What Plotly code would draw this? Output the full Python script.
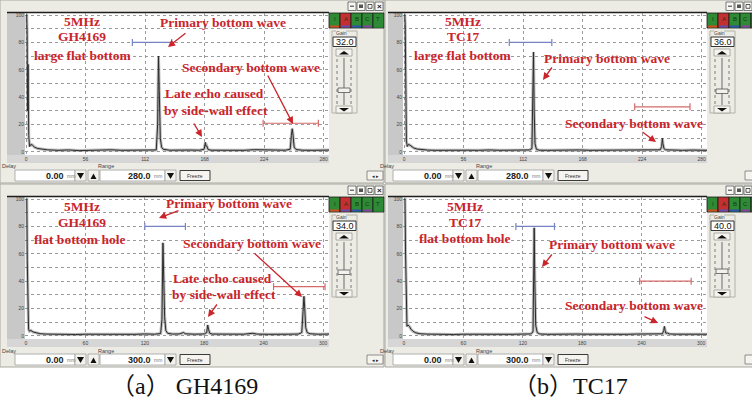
import plotly.graph_objects as go

# ---------------- data ----------------
TICKS_280 = [0, 56, 112, 168, 224, 280]
TICKS_300 = [0, 60, 120, 180, 240, 300]
Y_TICKS = [0, 20, 40, 60, 80, 100]
Y_MINOR = [10, 30, 50, 70, 90]

# A-scan waveforms: (sound path mm, amplitude %)
P1_WAVE = [(0, 100), (0.6, 100), (1.0, 86), (1.4, 30), (1.9, 64), (2.5, 12), (3.3, 4), (4.5, 5.5), (6, 5),
           (8, 3.5), (11, 2.5), (15, 2), (20, 1.6), (30, 1.2), (40, 1.5), (50, 1), (60, 1.3), (70, 1.1),
           (80, 1.6), (90, 1.2), (100, 1.4), (110, 1.2), (118, 1.6), (122.5, 1.5), (123.8, 20), (124.6, 70),
           (125.3, 45), (126.3, 10), (127.5, 3.5), (129, 2), (135, 1.3), (145, 1.1), (155, 1.4), (163, 1.3),
           (167.5, 2), (168.7, 7), (169.3, 4), (170, 4.5), (171.2, 1.8), (174, 1.3), (185, 1.2), (195, 1.5),
           (205, 1.2), (215, 1.7), (225, 1.3), (235, 1.4), (244, 1.3), (248.5, 2), (249.6, 12), (250.4, 17),
           (251.1, 13), (252.2, 3.5), (254, 1.8), (260, 1.3), (270, 1.2), (285, 1.4)]
P2_WAVE = [(0, 100), (0.7, 100), (1.1, 92), (1.6, 20), (2.2, 8), (3, 4), (4, 5.5), (5.5, 5), (7, 4), (9, 3),
           (12, 2.2), (16, 1.7), (22, 1.4), (30, 1.2), (40, 1.4), (50, 1.1), (60, 1.3), (70, 1.2), (80, 1.5),
           (90, 1.2), (100, 1.3), (110, 1.2), (118, 1.5), (120.3, 2.5), (121.2, 40), (121.8, 73), (122.4, 30),
           (123.2, 6), (124.5, 2), (127, 1.3), (135, 1.2), (145, 1.4), (155, 1.2), (165, 1.5), (175, 1.2),
           (185, 1.3), (195, 1.2), (205, 1.5), (215, 1.2), (225, 1.4), (235, 1.3), (241, 1.6), (242.3, 4),
           (243, 10), (243.6, 6), (244.5, 2.5), (246, 1.6), (252, 1.3), (262, 1.2), (272, 1.4), (285, 1.2)]
P3_WAVE = [(0, 100), (0.8, 100), (1.3, 55), (1.9, 16), (2.6, 5), (3.5, 3.5), (5, 4), (7, 3), (10, 2.2),
           (14, 1.7), (20, 1.4), (30, 1.2), (40, 1.5), (50, 1.1), (60, 1.3), (70, 1.2), (80, 1.5), (90, 1.2),
           (100, 1.4), (110, 1.2), (120, 1.5), (130, 1.3), (136, 1.8), (137.3, 12), (138.3, 68), (139.1, 45),
           (140, 14), (141.2, 4), (143, 2), (148, 1.4), (155, 1.5), (159, 2.5), (161, 1.6), (170, 1.3),
           (180, 1.5), (182.5, 2.5), (183.5, 8), (184.3, 5), (185.5, 2), (188, 1.4), (198, 1.2), (210, 1.4),
           (220, 1.3), (229, 2), (233, 1.4), (245, 1.2), (255, 1.5), (265, 1.3), (275, 1.4), (278.5, 2.5),
           (279.8, 18), (280.7, 29), (281.5, 20), (282.5, 6), (284, 2.5), (287, 1.6), (295, 1.3), (306, 1.4)]
P4_WAVE = [(0, 100), (1, 100), (1.6, 60), (2.3, 15), (3, 7), (4, 8), (5.5, 7), (7, 5), (9, 3.5), (12, 2.3),
           (16, 1.7), (22, 1.4), (30, 1.2), (40, 1.4), (50, 1.1), (60, 1.3), (70, 1.2), (80, 1.4), (90, 1.2),
           (100, 1.3), (110, 1.2), (120, 1.4), (128, 1.5), (130.3, 3), (131, 50), (131.5, 79), (132.1, 40),
           (133, 8), (134.5, 2.5), (137, 1.5), (145, 1.2), (155, 1.4), (165, 1.2), (175, 1.4), (185, 1.3),
           (195, 1.2), (205, 1.4), (215, 1.3), (225, 1.2), (235, 1.4), (245, 1.3), (255, 1.4), (261, 1.6),
           (262.3, 4), (263, 7), (263.7, 4), (264.5, 2), (266, 2.2), (268, 1.5), (275, 1.3), (285, 1.2),
           (295, 1.4), (306, 1.3)]

# gates: (start, end, level)
P1_GATES = [(100, 137, 80), (223, 275, 21)]
P2_GATES = [(99, 139, 80), (217, 269, 33)]
P3_GATES = [(120, 161, 80), (250, 302, 36)]
P4_GATES = [(113, 152, 80), (238, 290, 40)]

GAINS = ["32.0", "36.0", "34.0", "40.0"]
RANGES = ["280.0", "280.0", "300.0", "300.0"]
DELAY = "0.00"
BUTTONS = ["I", "A", "B", "C", "T"]

P1_TEXT = ["5MHz", "GH4169", "large flat bottom", "Primary bottom wave", "Secondary bottom wave",
           "Late echo caused", "by side-wall effect"]
P2_TEXT = ["5MHz", "TC17", "large flat bottom", "Primary bottom wave", "Secondary bottom wave"]
P3_TEXT = ["5MHz", "GH4169", "flat bottom hole", "Primary bottom wave", "Secondary bottom wave",
           "Late echo caused", "by side-wall effect"]
P4_TEXT = ["5MHz", "TC17", "flat bottom hole", "Primary bottom wave", "Secondary bottom wave"]
CAPTIONS = ["（a） GH4169", "（b）TC17"]

# ---------------- layout helpers ----------------
W, H = 752, 403
WIN_BG = "#ECEBE4"
GRID = "#9A9A9A"
RED = "#C9252B"
SERIF = "Liberation Serif, Times New Roman, serif"
SANS = "Liberation Sans, Arial, sans-serif"


def px(x):
    return x / W


def py(y):
    return 1 - y / H


shapes, annotations = [], []


def add_rect(x0, y0, x1, y1, fill, line_color=None, lw=0, layer="below"):
    shapes.append(dict(type="rect", xref="paper", yref="paper", x0=px(x0), x1=px(x1), y0=py(y1), y1=py(y0),
                       fillcolor=fill, line=dict(color=line_color or "rgba(0,0,0,0)", width=lw), layer=layer))


def add_line(x0, y0, x1, y1, color, lw=1, dash="solid", layer="below"):
    shapes.append(dict(type="line", xref="paper", yref="paper", x0=px(x0), x1=px(x1), y0=py(y0), y1=py(y1),
                       line=dict(color=color, width=lw, dash=dash), layer=layer))


def add_path(points, fill, layer="below"):
    path = "M " + " L ".join(f"{px(x):.5f},{py(y):.5f}" for x, y in points) + " Z"
    shapes.append(dict(type="path", xref="paper", yref="paper", path=path, fillcolor=fill,
                       line=dict(width=0, color=fill), layer=layer))


def add_text(x, y, text, size, color="#222", family=SANS, xanchor="center", yanchor="middle"):
    if x > W - 4:   # the window is cut at the picture edge; skip texts that would be cut
        return
    annotations.append(dict(x=px(x), y=py(y), xref="paper", yref="paper", text=text, showarrow=False,
                            font=dict(size=size, color=color, family=family), xanchor=xanchor,
                            yanchor=yanchor, borderpad=0))


def add_arrow(tail, head):
    annotations.append(dict(x=px(head[0]), y=py(head[1]), xref="paper", yref="paper", text="",
                            showarrow=True, ax=tail[0] - head[0], ay=tail[1] - head[1],
                            arrowhead=2, arrowsize=1.1, arrowwidth=1.3, arrowcolor=RED))


BTN_FILL = ["#2E8A34", "#C4302F", "#2E8A34", "#2E8A34", "#2E8A34"]
BTN_STRIP = ["#D24A22", "#5B4FB0", "#2F4FA8", "#8A3FA3", "#2E8A34"]

panels = [
    dict(ox=0, oy=0, wave=P1_WAVE, xr=285, ticks=TICKS_280, gates=P1_GATES, thumb=88, texts=P1_TEXT,
         pos=[(82, 22), (82, 37), (82, 55), (223, 23), (251, 67), (214, 94), (216, 110)],
         arrows=[((187, 32), (168, 47)), ((267, 74), (293, 124)), ((193, 122), (202, 137))]),
    dict(ox=378, oy=0, wave=P2_WAVE, xr=285, ticks=TICKS_280, gates=P2_GATES, thumb=89, texts=P2_TEXT,
         pos=[(463, 22), (463, 37), (462, 55), (607, 58), (634, 123)],
         arrows=[((553, 66), (543, 80)), ((641, 131), (656, 142))]),
    dict(ox=0, oy=184, wave=P3_WAVE, xr=306, ticks=TICKS_300, gates=P3_GATES, thumb=86, texts=P3_TEXT,
         pos=[(82, 207), (82, 222), (80, 239), (229, 203), (252, 243), (222, 278), (224, 294)],
         arrows=[((180, 210), (159, 218)), ((253, 252), (302, 297)), ((218, 303), (208, 317))]),
    dict(ox=378, oy=184, wave=P4_WAVE, xr=306, ticks=TICKS_300, gates=P4_GATES, thumb=85, texts=P4_TEXT,
         pos=[(465, 207), (465, 222), (465, 238), (612, 245), (634, 305)],
         arrows=[((553, 253), (542, 267)), ((643, 316), (658, 323))]),
]

fig = go.Figure()
layout_axes = {}

for i, p in enumerate(panels):
    ox, oy = p["ox"], p["oy"]
    wx0 = ox if ox == 0 else ox + 7
    fx0 = max(wx0 + 3, ox + 7)
    # window body
    add_rect(wx0, oy, ox + 384, oy + 183, WIN_BG, "#A8A8A0", 1)
    # title bar icons
    for gx in [348, 357, 366, 375]:
        add_rect(ox + gx, oy + 2, ox + gx + 8, oy + 10.5, "#F7F7F3", "#5A5A5A", 0.8)
    add_line(ox + 350, oy + 6.2, ox + 354, oy + 6.2, "#333", 1)
    add_rect(ox + 359, oy + 4.5, ox + 363, oy + 8, "#555")
    add_rect(ox + 368, oy + 4.5, ox + 372, oy + 8.3, "rgba(0,0,0,0)", "#333", 0.8)
    add_text(ox + 379, oy + 6.2, "<b>×</b>", 8, "#222")
    # plot frame
    add_rect(fx0, oy + 13, ox + 25, oy + 163, "#C8C8C8")
    add_rect(fx0, oy + 155, ox + 329, oy + 163, "#D6D6D6")
    add_rect(ox + 25, oy + 13, ox + 329, oy + 155, "#FFFFFF")
    add_line(fx0, oy + 12.5, ox + 329, oy + 12.5, "#1E1E1E", 1.5)
    # channel buttons
    for k, lab in enumerate(BUTTONS):
        bx = ox + 329 + 11 * k
        add_rect(bx, oy + 13, bx + 11, oy + 28, BTN_FILL[k], "#1A1A1A", 0.8)
        add_rect(bx + 1, oy + 25.5, bx + 10, oy + 27.5, BTN_STRIP[k])
        add_text(bx + 5.5, oy + 19.5, lab, 6, "#1C331C")
    # gain group
    add_rect(ox + 332, oy + 31, ox + 357, oy + 113, "rgba(0,0,0,0)", "#B2B2AA", 1)
    add_rect(ox + 336, oy + 29.5, ox + 346, oy + 33.5, WIN_BG)
    add_text(ox + 341, oy + 32.5, "Gain", 5, "#444")
    add_rect(ox + 333, oy + 37, ox + 356, oy + 46.5, "#FFFFFF", "#333", 1)
    add_text(ox + 344.5, oy + 42, GAINS[i], 9, "#111")
    add_rect(ox + 336, oy + 49, ox + 352, oy + 56, "#F5F4EF", "#9C9C96", 0.8)
    add_path([(ox + 339, oy + 54.5), (ox + 349, oy + 54.5), (ox + 344, oy + 51)], "#111")
    add_line(ox + 337, oy + 59, ox + 337, oy + 104, "#7A7A7A", 1, "dot")
    add_line(ox + 351, oy + 59, ox + 351, oy + 104, "#7A7A7A", 1, "dot")
    add_line(ox + 344, oy + 58, ox + 344, oy + 105, "#8C8C8C", 2)
    add_line(ox + 344, oy + 58, ox + 344, oy + 105, "#F4F4F4", 0.6)
    add_rect(ox + 338, oy + p["thumb"], ox + 350, oy + p["thumb"] + 4.5, "#F2F1EC", "#555", 0.8)
    add_rect(ox + 336, oy + 106, ox + 352, oy + 113, "#F5F4EF", "#9C9C96", 0.8)
    add_path([(ox + 339, oy + 108), (ox + 349, oy + 108), (ox + 344, oy + 111.5)], "#111")
    # bottom controls
    add_text(ox + 1, oy + 166.5, "Delay", 5.5, "#444", xanchor="left")
    add_rect(ox + 15, oy + 170, ox + 75, oy + 181, "#FFFFFF", "#A0A0A0", 0.8)
    add_text(ox + 65, oy + 175.5, "<b>" + DELAY + "</b>", 9, "#222", xanchor="right")
    add_text(ox + 66, oy + 176, "mm", 5, "#777", xanchor="left")
    add_rect(ox + 75, oy + 170, ox + 86, oy + 181, "#F3F2EC", "#A0A0A0", 0.8)
    add_path([(ox + 77, oy + 173), (ox + 84, oy + 173), (ox + 80.5, oy + 179)], "#111")
    add_rect(ox + 88, oy + 170, ox + 99, oy + 181, "#F3F2EC", "#A0A0A0", 0.8)
    add_path([(ox + 90.5, oy + 179), (ox + 96.5, oy + 179), (ox + 93.5, oy + 173.5)], "#111")
    add_text(ox + 97, oy + 166.5, "Range", 5.5, "#444", xanchor="left")
    add_rect(ox + 100, oy + 170, ox + 165, oy + 181, "#FFFFFF", "#A0A0A0", 0.8)
    add_text(ox + 152, oy + 175.5, "<b>" + RANGES[i] + "</b>", 9, "#222", xanchor="right")
    add_text(ox + 153, oy + 176, "mm", 5, "#777", xanchor="left")
    add_rect(ox + 165, oy + 170, ox + 176, oy + 181, "#F3F2EC", "#A0A0A0", 0.8)
    add_path([(ox + 167, oy + 173), (ox + 174, oy + 173), (ox + 170.5, oy + 179)], "#111")
    add_rect(ox + 180, oy + 170.5, ox + 210, oy + 180.5, "#F5F4EF", "#3A3A3A", 1)
    add_text(ox + 195, oy + 175.5, "Freeze", 5, "#333")
    add_rect(ox + 367, oy + 171, ox + 383, oy + 180, "#F5F4EF", "#777", 0.8)
    add_text(ox + 375, oy + 175.5, "◂ ▸", 5, "#222")

    # axes
    sfx = "" if i == 0 else str(i + 1)
    layout_axes["xaxis" + sfx] = dict(
        domain=[px(ox + 25), px(ox + 329)], range=[-1, p["xr"]], anchor="y" + sfx,
        tickvals=p["ticks"], ticktext=[str(t) for t in p["ticks"]], ticks="",
        showgrid=True, gridcolor=GRID, griddash="dot", gridwidth=1, zeroline=False, showline=False,
        tickfont=dict(size=5, color="#444", family=SANS))
    layout_axes["yaxis" + sfx] = dict(
        domain=[py(oy + 155), py(oy + 13)], range=[-2.2, 101.5], anchor="x" + sfx,
        tickvals=Y_TICKS, ticktext=[str(t) for t in Y_TICKS], ticks="",
        showgrid=True, gridcolor=GRID, griddash="dot", gridwidth=1, zeroline=False, showline=False,
        tickfont=dict(size=5, color="#444", family=SANS),
        minor=dict(tickvals=Y_MINOR, showgrid=True, gridcolor=GRID, griddash="dot", gridwidth=1, ticks=""))

    xs = [a for a, b in p["wave"]]
    ys = [b for a, b in p["wave"]]
    fig.add_trace(go.Scatter(x=xs, y=ys, mode="lines", xaxis="x" + sfx, yaxis="y" + sfx,
                             line=dict(color="rgba(105,105,105,0.45)", width=3), hoverinfo="skip",
                             showlegend=False))
    fig.add_trace(go.Scatter(x=xs, y=ys, mode="lines", xaxis="x" + sfx, yaxis="y" + sfx,
                             line=dict(color="#2B2B2B", width=1), showlegend=False))
    for g, (g0, g1, lvl) in enumerate(p["gates"]):
        col = "#7583C6" if g == 0 else "#D66A6A"
        fig.add_trace(go.Scatter(x=[g0, g1], y=[lvl, lvl], mode="lines+markers", xaxis="x" + sfx,
                                 yaxis="y" + sfx, line=dict(color=col, width=1.2),
                                 marker=dict(symbol="line-ns", size=5, line=dict(color=col, width=1.2)),
                                 showlegend=False))

    # red annotations
    for t, (tx, ty) in zip(p["texts"], p["pos"]):
        add_text(tx, ty, "<b>" + t + "</b>", 13.5, RED, SERIF)
    for tail, head in p["arrows"]:
        add_arrow(tail, head)

# captions
add_text(184, 386, CAPTIONS[0], 24, "#111", SERIF + ", Noto Sans CJK SC")
add_text(570, 386, CAPTIONS[1], 24, "#111", SERIF + ", Noto Sans CJK SC")

fig.update_layout(
    width=W, height=H, margin=dict(l=0, r=0, t=0, b=0),
    paper_bgcolor="#FFFFFF", plot_bgcolor="#FFFFFF",
    shapes=shapes, annotations=annotations, showlegend=False,
    **layout_axes)

fig.write_html("out.html")
